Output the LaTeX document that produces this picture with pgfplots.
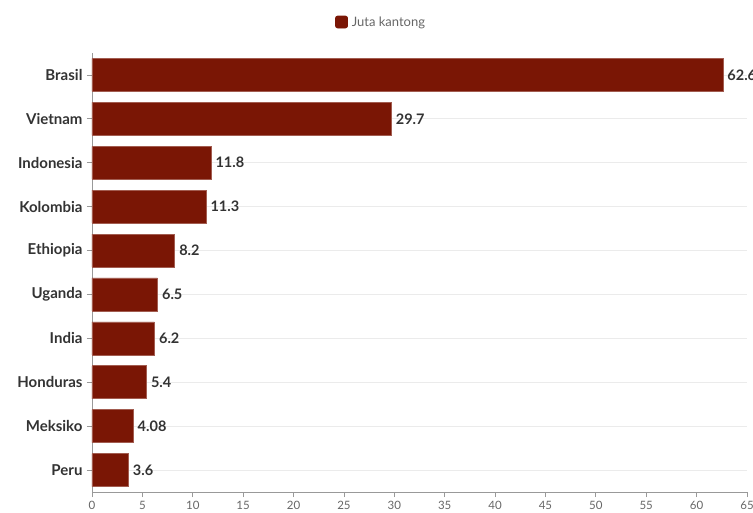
\documentclass[border=0pt]{standalone}
\usepackage{pgfplots}
\pgfplotsset{compat=1.18}
\usepackage{fontspec}
\setmainfont{Lato}
\definecolor{barc}{RGB}{122,22,5}
\definecolor{lab}{RGB}{51,51,51}
\definecolor{tick}{RGB}{102,102,102}
\definecolor{gridc}{RGB}{235,235,235}
\begin{document}
\begin{tikzpicture}
\path[use as bounding box] (-92pt,-20pt) rectangle (661pt,492pt);
\begin{axis}[
  at={(0pt,0pt)}, anchor=south west, scale only axis,
  width=655pt, height=439pt,
  xbar, bar width=33pt,
  xmin=0, xmax=65, ymin=-0.5, ymax=9.5,
  ytick={0,...,9},
  yticklabels={Peru,Meksiko,Honduras,India,Uganda,Ethiopia,Kolombia,Indonesia,Vietnam,Brasil},
  xtick={0,5,...,65},
  axis x line*=bottom, axis y line*=left,
  axis line style={draw=gray!80, line width=0.8pt},
  tick align=outside, major tick length=5pt,
  tick style={draw=gray!80, line width=0.8pt},
  ymajorgrids, major grid style={draw=gridc, line width=0.8pt},
  /pgf/number format/assume math mode=true,
  yticklabel style={font=\fontsize{15}{17}\selectfont\bfseries, text=lab, xshift=-1pt},
  xticklabel style={font=\fontsize{11.5}{13}\selectfont, text=tick, yshift=-1pt},
  nodes near coords={\pgfmathprintnumber[fixed,precision=2]{\pgfplotspointmeta}},
  nodes near coords style={font=\fontsize{14.5}{16}\selectfont\bfseries, text=lab, anchor=west, xshift=1pt},
  legend style={at={(0.443,1.0706)}, anchor=center, draw=none, fill=none,
    font=\fontsize{13}{15}\selectfont, text=tick, nodes={inner xsep=4pt}},
  legend image code/.code={\fill[barc, rounded corners=2pt] (0pt,-6pt) rectangle (12pt,6pt);},
]
\addplot[fill=barc, draw=barc!70!white, line width=0.6pt] coordinates {
  (3.6,0) (4.08,1) (5.4,2) (6.2,3) (6.5,4) (8.2,5) (11.3,6) (11.8,7) (29.7,8) (62.6,9)};
\addlegendentry{Juta kantong}
\end{axis}
\end{tikzpicture}
\end{document}
